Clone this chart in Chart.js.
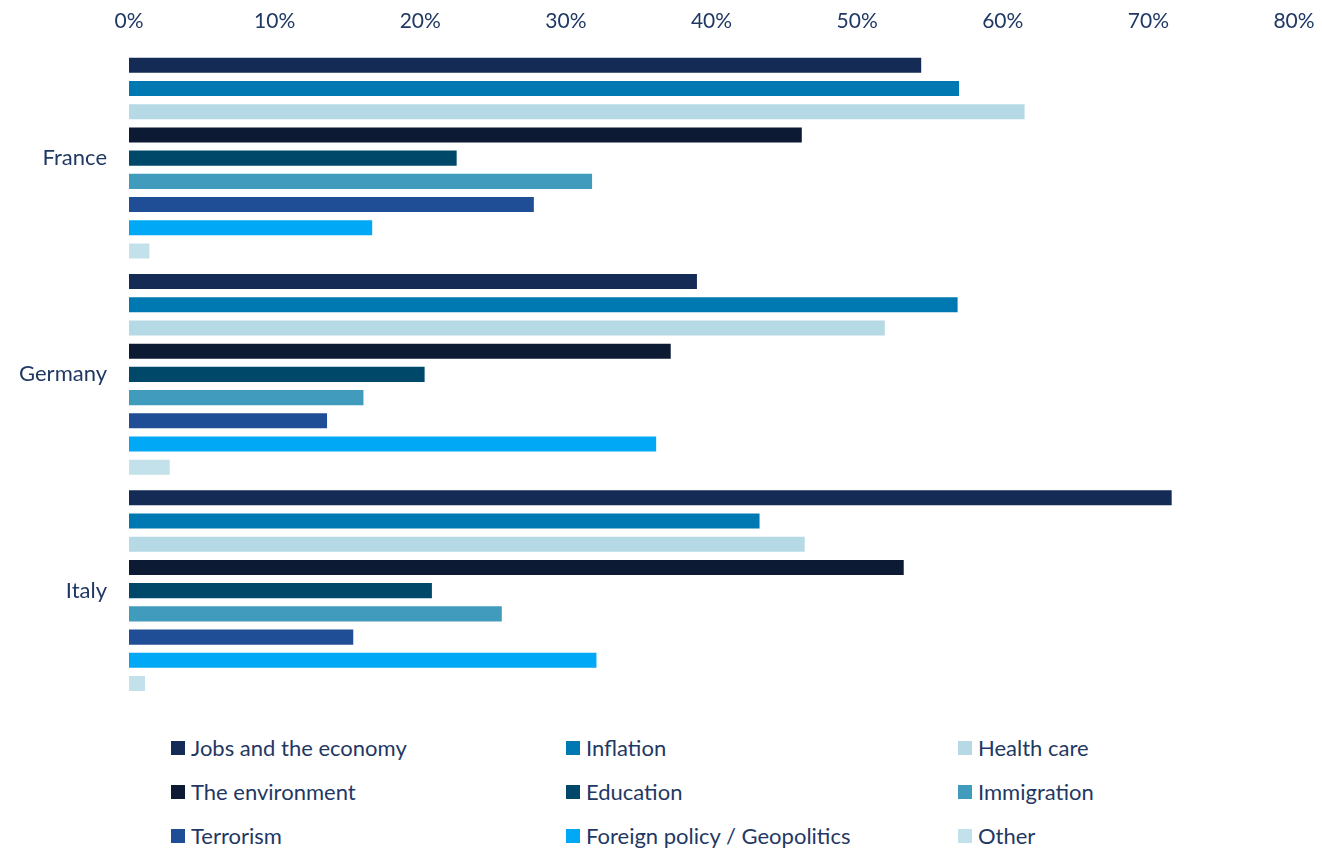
<!DOCTYPE html>
<html>
<head>
<meta charset="utf-8">
<script src="https://cdn.jsdelivr.net/npm/chart.js@4"></script>
<style>
  body { margin: 0; background: #fff; font-family: Lato, sans-serif; }
  #wrap { position: relative; width: 1322px; height: 734px; }
  #legend { position: absolute; top: 734px; left: 0; width: 1322px; }
  .item { position: absolute; display: flex; align-items: center; font-size: 22px; color: #1F3864; white-space: nowrap; }
  .item span.box { width: 14px; height: 14px; margin-right: 6px; display: inline-block; }
</style>
</head>
<body>
<div id="wrap"><canvas id="chart" width="1322" height="734"></canvas></div>
<div id="legend"></div>
<script>
// categories
const countries = ['France', 'Germany', 'Italy'];

// series (share of respondents, %)
const jobs        = [54.4, 39.0, 71.6];
const inflation   = [57.0, 56.9, 43.3];
const healthCare  = [61.5, 51.9, 46.4];
const environment = [46.2, 37.2, 53.2];
const education   = [22.5, 20.3, 20.8];
const immigration = [31.8, 16.1, 25.6];
const terrorism   = [27.8, 13.6, 15.4];
const foreign     = [16.7, 36.2, 32.1];
const other       = [1.4, 2.8, 1.1];

const seriesNames = ['Jobs and the economy', 'Inflation', 'Health care', 'The environment', 'Education', 'Immigration', 'Terrorism', 'Foreign policy / Geopolitics', 'Other'];
const seriesData = [jobs, inflation, healthCare, environment, education, immigration, terrorism, foreign, other];
const seriesColors = ['#132B55', '#0079B3', '#B5DAE5', '#0D1A33', '#00486A', '#419BBD', '#204E96', '#00A8F5', '#C3E1EA'];

const textColor = '#1F3864';

const datasets = seriesNames.map((name, i) => ({
    label: name,
    data: seriesData[i],
    backgroundColor: seriesColors[i],
    barPercentage: 0.65,
    categoryPercentage: 0.966
}));

const ctx = document.getElementById('chart').getContext('2d');
const chart = new Chart(ctx, {
    type: 'bar',
    data: { labels: countries, datasets: datasets },
    options: {
        indexAxis: 'y',
        responsive: false,
        animation: false,
        layout: { padding: { top: 0, right: 28, bottom: 6, left: 0 } },
        plugins: { legend: { display: false }, tooltip: { enabled: false } },
        scales: {
            x: {
                position: 'top',
                min: 0,
                max: 80,
                ticks: {
                    stepSize: 10,
                    color: textColor,
                    font: { family: 'Lato', size: 21 },
                    padding: 16,
                    callback: v => v + '%'
                },
                grid: { display: false, drawTicks: false },
                border: { display: false },
                afterFit: s => { s.height = 50; s.paddingRight = 0; s.paddingLeft = 0; }
            },
            y: {
                ticks: {
                    color: textColor,
                    font: { family: 'Lato', size: 22 },
                    padding: 22
                },
                grid: { display: false, drawTicks: false },
                border: { display: false },
                afterFit: s => { s.width = 129; }
            }
        }
    }
});

// legend in three columns
const colX = [171, 566, 958];
const rowY = [0, 44, 88];
const legend = document.getElementById('legend');
seriesNames.forEach((name, i) => {
    const el = document.createElement('div');
    el.className = 'item';
    el.style.left = colX[i % 3] + 'px';
    el.style.top = rowY[Math.floor(i / 3)] + 'px';
    el.innerHTML = '<span class="box" style="background:' + seriesColors[i] + '"></span>' + name;
    legend.appendChild(el);
});
</script>
</body>
</html>
